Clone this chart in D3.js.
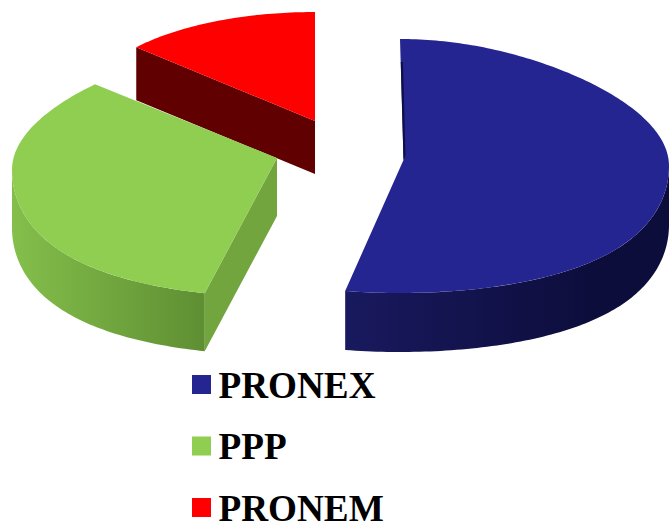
<!DOCTYPE html>
<html>
<head>
<meta charset="utf-8">
<style>html,body{margin:0;padding:0;background:#fff;overflow:hidden}svg{display:block}</style>
<script src="https://cdn.jsdelivr.net/npm/d3@7/dist/d3.min.js"></script>
</head>
<body>
<svg id="chart" width="670" height="522"></svg>
<script>
const categories = ["PRONEX", "PPP", "PRONEM"];
const values = [52.85, 32.9, 14.25];
const topColors = ["#252592", "#8fce50", "#ff0000"];
const wallStart = ["#19195f", "#84bf4b", "#600000"];
const wallEnd = ["#0d0d3c", "#5f8f33", "#600000"];
const cutColors = ["#0f0f48", "#72a53e", "#600000"];
// projection of each exploded wedge (egg term k gives the perspective widening)
const geometry = [
  {cx: 400, cy: 166, rx: 269, k: 40, ry: 127, ax: 403.5, ay: 160, depth: 59, turn: 0, gx0: 345, gx1: 590},
  {cx: 278, cy: 170, rx: 266, k: 40, ry: 127, ax: 277, ay: 158, depth: 58, turn: 3.7, gx0: 12, gx1: 202},
  {cx: 315, cy: 106, rx: 229, k: 0, ry: 94, ax: 315, ay: 121, depth: 53, turn: 0, gx0: 137, gx1: 315}
];

const svg = d3.select("#chart");
const pie = d3.pie().sort(null).value(d => d)(values);
const rad = Math.PI / 180;
const line = d3.line();
const defs = svg.append("defs");

categories.forEach((c, i) => {
  const g = defs.append("linearGradient").attr("id", "wall" + i)
    .attr("gradientUnits", "userSpaceOnUse")
    .attr("x1", geometry[i].gx0).attr("x2", geometry[i].gx1)
    .attr("y1", 0).attr("y2", 0);
  g.append("stop").attr("offset", 0).attr("stop-color", wallStart[i]);
  g.append("stop").attr("offset", 1).attr("stop-color", wallEnd[i]);
});

function rim(geo, a0, a1) {
  const n = Math.max(2, Math.ceil(Math.abs(a1 - a0) / (1 * rad)));
  return d3.range(n + 1).map(j => {
    const a = a0 + (a1 - a0) * j / n;
    const c = Math.cos(a), s = Math.sin(a);
    return [geo.cx + (geo.rx - geo.k * c * Math.abs(c)) * s, geo.cy - geo.ry * c];
  });
}

// painter's order: back wedge first
[2, 1, 0].forEach(i => {
  const geo = geometry[i], d = pie[i];
  const a0 = d.startAngle + geo.turn * rad, a1 = d.endAngle + geo.turn * rad;
  const outer = rim(geo, a0, a1);
  const apex = [geo.ax, geo.ay];
  const g = svg.append("g").attr("class", "slice").datum(d);
  const drop = p => [p[0], p[1] + geo.depth];

  if (i === 1 || i === 2) {
    const s = outer[0];
    g.append("path").attr("d", line([s, apex, drop(apex), drop(s)]) + "Z").attr("fill", cutColors[i]);
  }
  // outer wall on the visible front half
  const from = Math.max(a0, 90 * rad), to = Math.min(a1, 270 * rad);
  if (to > from) {
    const arc = rim(geo, from, to);
    g.append("path")
      .attr("d", line(arc.concat(arc.slice().reverse().map(drop))) + "Z")
      .attr("fill", `url(#wall${i})`);
  }
  // top surface
  g.append("path")
    .attr("d", line([apex].concat(outer)) + "Z")
    .attr("fill", topColors[i]);
  if (i === 0) {
    g.append("path").attr("d", line([[400.8, 62], apex, [405.5, 156], [403, 62]]) + "Z").attr("fill", cutColors[i]);
  }
});

// legend
const legendY = d3.scalePoint().domain(categories).range([384.5, 507.5]);
const legend = svg.append("g").selectAll("g").data(categories).join("g")
  .attr("transform", d => `translate(0,${legendY(d)})`);
legend.append("rect").attr("x", 192).attr("y", -9.5).attr("width", 19).attr("height", 19)
  .attr("fill", (d, i) => topColors[i]);
legend.append("text").attr("x", 218.5).attr("y", 13)
  .attr("font-family", "'Liberation Serif', serif").attr("font-weight", "bold")
  .attr("font-size", 37.2).attr("fill", "#000").text(d => d);
</script>
</body>
</html>
